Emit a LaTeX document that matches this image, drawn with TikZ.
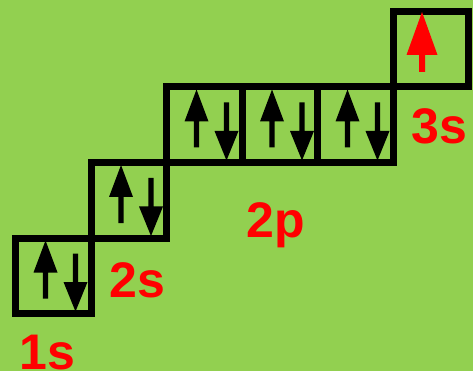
\documentclass[tikz,border=0pt]{standalone}
\usepackage{fontspec}
\setmainfont{Liberation Sans}
\definecolor{bg}{HTML}{92D050}
\tikzset{
  orb/.style={draw=black,line width=7pt,minimum size=75.5pt,inner sep=0pt,outer sep=0pt},
  lbl/.style={text=red,font=\fontsize{50}{50}\selectfont\bfseries,inner sep=0pt,anchor=base},
  pairarrows/.pic={
    \fill[black] (27.3,60.5) -- (27.3,34.5) -- (18,34.5) -- (30,2.5) -- (42,34.5) -- (32.7,34.5) -- (32.7,60.5) -- cycle;
    \fill[black] (57.3,15.5) -- (57.3,44) -- (48,44) -- (60,73.5) -- (72,44) -- (62.7,44) -- (62.7,15.5) -- cycle;
  },
  redarrow/.pic={
    \fill[red] (26,60.5) -- (26,43.5) -- (13.5,43.5) -- (29,0.5) -- (44.5,43.5) -- (32,43.5) -- (32,60.5) -- cycle;
  }
}
\begin{document}
\begin{tikzpicture}[x=1pt,y=-1pt]
\fill[bg] (0,0) rectangle (473,371);
\useasboundingbox (0,0) rectangle (473,371);
% boxes (centers = top-left + 37.75)
\node[orb] (b1s) at (53.25,275.75) {};
\node[orb] (b2s) at (128.75,200.25) {};
\node[orb] (b2pa) at (204.25,124.75) {};
\node[orb] (b2pb) at (279.75,124.75) {};
\node[orb] (b2pc) at (355.25,124.75) {};
\node[orb] (b3s) at (430.75,49.25) {};
% electrons
\pic at (b1s.north west) {pairarrows};
\pic at (b2s.north west) {pairarrows};
\pic at (b2pa.north west) {pairarrows};
\pic at (b2pb.north west) {pairarrows};
\pic at (b2pc.north west) {pairarrows};
\pic at (b3s.north west) {redarrow};
% labels
\node[lbl] (l1s) at (47.5,369) {1s};
\node[lbl] (l2s) at (137.5,297) {2s};
\node[lbl] (l2p) at (276,237) {2p};
\node[lbl] (l3s) at (439.5,144) {3s};
\end{tikzpicture}
\end{document}
